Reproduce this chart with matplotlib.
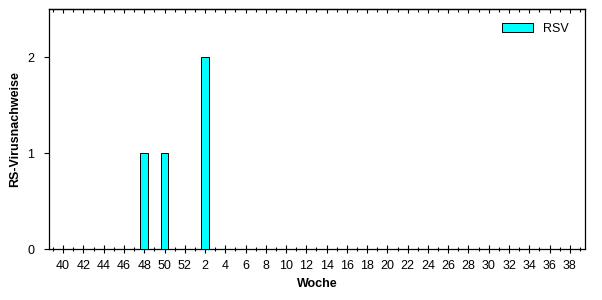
import matplotlib
matplotlib.use("Agg")
import matplotlib.pyplot as plt
from matplotlib.ticker import FixedLocator, NullFormatter

plt.rcParams['font.family'] = ['Liberation Sans', 'DejaVu Sans']

weeks = list(range(40, 53)) + list(range(1, 40))
rsv = [0] * len(weeks)
rsv[weeks.index(48)] = 1
rsv[weeks.index(50)] = 1
rsv[weeks.index(2)] = 2
y_ticks = [0, 1, 2]

fig = plt.figure(figsize=(6.02, 3.0), dpi=100)
ax = fig.add_axes([49/602, 51/300, (585-49)/602, (249-9)/300])

x = list(range(len(weeks)))
ax.bar(x, rsv, width=0.75, color='#00FFFF', edgecolor='black', linewidth=0.7, label='RSV', zorder=3)

ax.set_xlim(-1.4, 51.5)
ax.set_ylim(0, 2.5)

major = [i for i, w in enumerate(weeks) if w % 2 == 0]
minor = list(range(-1, len(weeks)))
ax.xaxis.set_major_locator(FixedLocator(major))
ax.set_xticklabels([str(weeks[i]) for i in major], fontsize=9)
ax.xaxis.set_minor_locator(FixedLocator(minor))
ax.xaxis.set_minor_formatter(NullFormatter())

ax.set_yticks(y_ticks)
ax.set_yticklabels([str(v) for v in y_ticks], fontsize=9)

ax.tick_params(axis='x', which='major', direction='inout', length=6, width=0.8, pad=5)
ax.tick_params(axis='x', which='minor', direction='inout', length=3, width=0.8)
ax.tick_params(axis='y', which='major', direction='out', length=3.5, width=0.8, pad=7)

top = ax.secondary_xaxis('top')
top.xaxis.set_major_locator(FixedLocator(major))
top.xaxis.set_minor_locator(FixedLocator(minor))
top.xaxis.set_major_formatter(NullFormatter())
top.xaxis.set_minor_formatter(NullFormatter())
top.tick_params(which='major', direction='in', length=3, width=0.8)
top.tick_params(which='minor', direction='in', length=1.8, width=0.8)
top.spines['top'].set_linewidth(0.9)

for s in ax.spines.values():
    s.set_linewidth(0.9)

ax.set_xlabel('Woche', fontsize=9, fontweight='bold', labelpad=4.5)
ax.set_ylabel('RS-Virusnachweise', fontsize=9, fontweight='bold', labelpad=4.5)

ax.legend(loc='upper right', frameon=False, fontsize=9, handlelength=2.5, handleheight=0.75,
          handletextpad=0.8, bbox_to_anchor=(0.984, 0.975), borderaxespad=0.2)

fig.savefig('out.png', dpi=100)
